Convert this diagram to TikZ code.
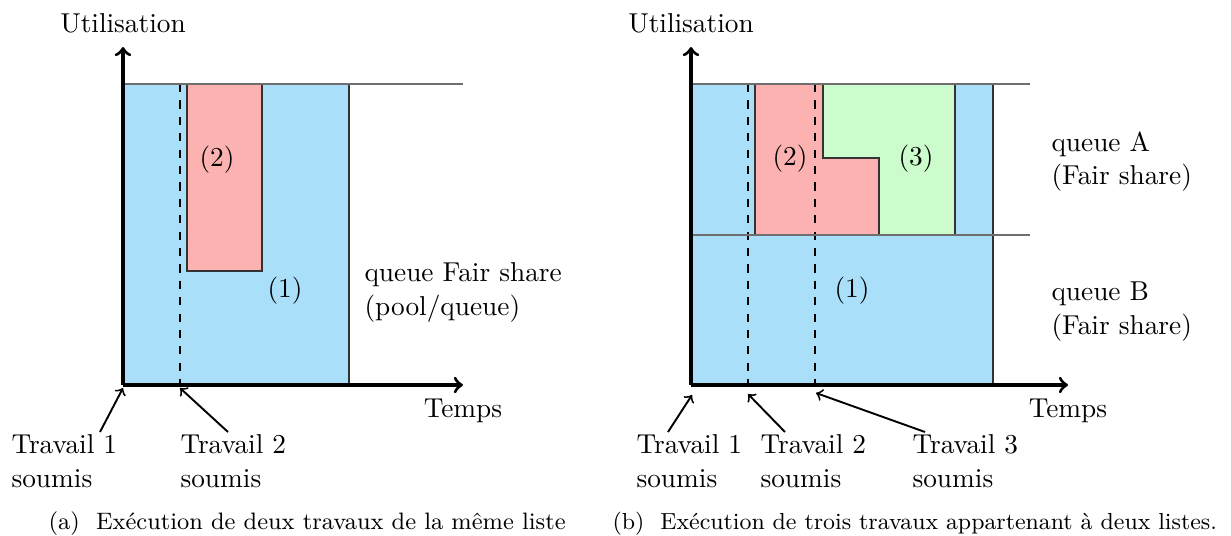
\documentclass[tikz,border=0pt]{standalone}
\usepackage{fontspec}
\usetikzlibrary{calc}
\definecolor{jobblue}{RGB}{170,223,250}
\definecolor{jobred}{RGB}{253,178,178}
\definecolor{jobgreen}{RGB}{204,252,204}
\definecolor{limitgray}{RGB}{110,110,110}
\newcommand{\captionsize}[1]{\fontsize{#1}{11}\selectfont}
\tikzset{
  axis/.style={line width=1.2pt,->},
  block/.style={draw=black!80,line width=0.4pt},
  limit/.style={draw=limitgray,line width=0.5pt},
  submit/.style={dashed,line width=0.4pt},
  pointer/.style={->,line width=0.7pt},
  lbl/.style={inner sep=0pt,anchor=base},
  multi/.style={inner sep=0pt,anchor=north west,align=left},
  caption/.style={inner sep=0pt,anchor=base west},
}
\begin{document}
\begin{tikzpicture}[x=0.366pt,y=-0.366pt,font=\fontsize{10}{12.4}\selectfont]
\useasboundingbox (0,0) rectangle (1231,536);

% ---------- (a) one queue, two jobs ----------
\coordinate (oA) at (123,385);
\coordinate (yA) at (123,47);
\coordinate (xA) at (463,385);
\coordinate (capA) at (463,84);
\fill[jobblue] (123,84) rectangle (349,385);
\draw[block] (349,84) -- (349,385);
\draw[block,fill=jobred] (187,84) rectangle (262,271);
\draw[submit] (180,84) -- (180,385);
\draw[limit] (123,84) -- (capA);
\draw[axis] (oA) -- (yA);
\draw[axis] (oA) -- (xA);
\node[lbl] (utilA) at (123,33) {Utilisation};
\node[lbl] (tempsA) at (463,418) {Temps};
\node (j2A) at (217,160) {(2)};
\node (j1A) at (285,291) {(1)};
\node[multi] (qA) at (364,262) {queue Fair share\\(pool/queue)};
\coordinate (s1A) at (123,388);
\coordinate (s2A) at (180,388);
\node[multi] (t1A) at (11,434) {Travail 1\\soumis};
\node[multi] (t2A) at (180,434) {Travail 2\\soumis};
\draw[pointer] ($(t1A.north west)+(89,-2)$) -- (s1A);
\draw[pointer] ($(t2A.north west)+(48,-2)$) -- (s2A);
\node[caption] (capa) at (48,529) {\captionsize{8.7}(a)\ \ Exécution de deux travaux de la même liste};

% ---------- (b) two queues, three jobs ----------
\coordinate (oB) at (691,385);
\coordinate (yB) at (691,47);
\coordinate (xB) at (1068,385);
\fill[jobblue] (691,84) rectangle (993,385);
\draw[block] (993,84) -- (993,385);
\draw[block,fill=jobred] (755,84) -- (823,84) -- (823,158) -- (879,158) -- (879,235) -- (755,235) -- cycle;
\draw[block,fill=jobgreen] (823,84) -- (955,84) -- (955,235) -- (879,235) -- (879,158) -- (823,158) -- cycle;
\draw[submit] (748,84) -- (748,385);
\draw[submit] (815,84) -- (815,385);
\draw[limit] (691,84) -- (1030,84);
\draw[limit] (691,235) -- (1030,235);
\draw[axis] (oB) -- (yB);
\draw[axis] (oB) -- (xB);
\node[lbl] (utilB) at (691,33) {Utilisation};
\node[lbl] (tempsB) at (1068,418) {Temps};
\node (j2B) at (790,159) {(2)};
\node (j3B) at (916,159) {(3)};
\node (j1B) at (852,291) {(1)};
\node[multi] (qAB) at (1051,131) {queue A\\(Fair share)};
\node[multi] (qBB) at (1051,281) {queue B\\(Fair share)};
\coordinate (s1B) at (692,395);
\coordinate (s2B) at (748,394);
\coordinate (s3B) at (816,393);
\node[multi] (t1B) at (636,434) {Travail 1\\soumis};
\node[multi] (t2B) at (760,434) {Travail 2\\soumis};
\node[multi] (t3B) at (912,434) {Travail 3\\soumis};
\draw[pointer] ($(t1B.north west)+(32,-2)$) -- (s1B);
\draw[pointer] ($(t2B.north west)+(25,-2)$) -- (s2B);
\draw[pointer] ($(t3B.north west)+(13,-2)$) -- (s3B);
\node[caption] (capb) at (612,529) {\captionsize{8.5}(b)\ \ Exécution de trois travaux appartenant à deux listes.};
\end{tikzpicture}
\end{document}
